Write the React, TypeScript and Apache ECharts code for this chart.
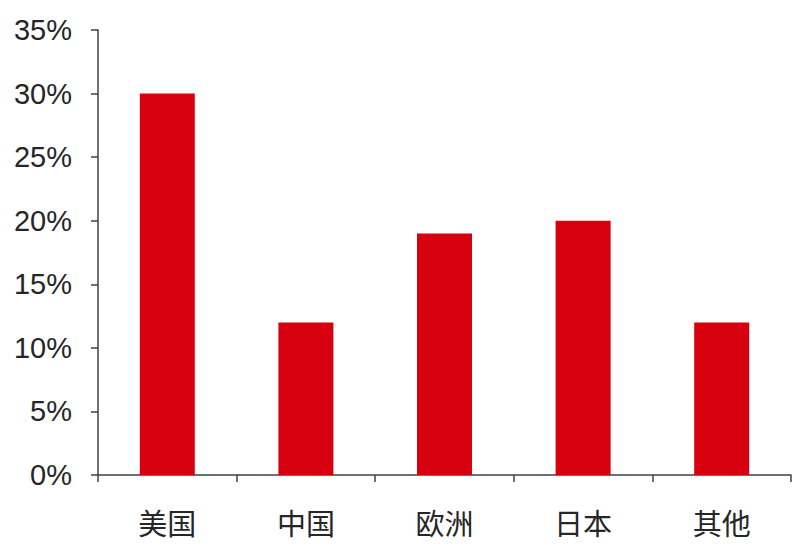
import React, { useEffect, useRef } from "react";
import * as echarts from "echarts";

const categories = ["美国", "中国", "欧洲", "日本", "其他"];
const values = [30, 12, 19, 20, 12];

export default function App() {
  const ref = useRef<HTMLDivElement>(null);
  useEffect(() => {
    if (!ref.current) return;
    const chart = echarts.init(ref.current, null, { renderer: "svg" });
    const axisColor = "#404040";
    chart.setOption({
      animation: false,
      backgroundColor: "#ffffff",
      grid: { left: 98, right: 9, top: 30, bottom: 85, containLabel: false },
      xAxis: {
        type: "category",
        data: categories,
        axisLine: { lineStyle: { color: axisColor, width: 1.5 } },
        axisTick: { show: true, length: 7, inside: false, alignWithLabel: false, lineStyle: { color: axisColor, width: 1.5 } },
        axisLabel: {
          margin: 32,
          fontSize: 29,
          color: "#262626",
          fontFamily: "'Noto Sans CJK SC', sans-serif",
        },
      },
      yAxis: {
        type: "value",
        min: 0,
        max: 35,
        interval: 5,
        splitLine: { show: false },
        axisLine: { show: true, lineStyle: { color: axisColor, width: 1.5 } },
        axisTick: { show: true, length: 7, lineStyle: { color: axisColor, width: 1.5 } },
        axisLabel: {
          margin: 26,
          fontSize: 29,
          color: "#262626",
          fontFamily: "'Liberation Sans', Arial, sans-serif",
          formatter: "{value}%",
        },
      },
      series: [
        {
          type: "bar",
          data: values,
          barWidth: 55,
          itemStyle: { color: "#D6000F" },
        },
      ],
    });
    return () => chart.dispose();
  }, []);
  return <div ref={ref} style={{ width: 800, height: 560, position: "absolute", left: 0, top: 0 }} />;
}
